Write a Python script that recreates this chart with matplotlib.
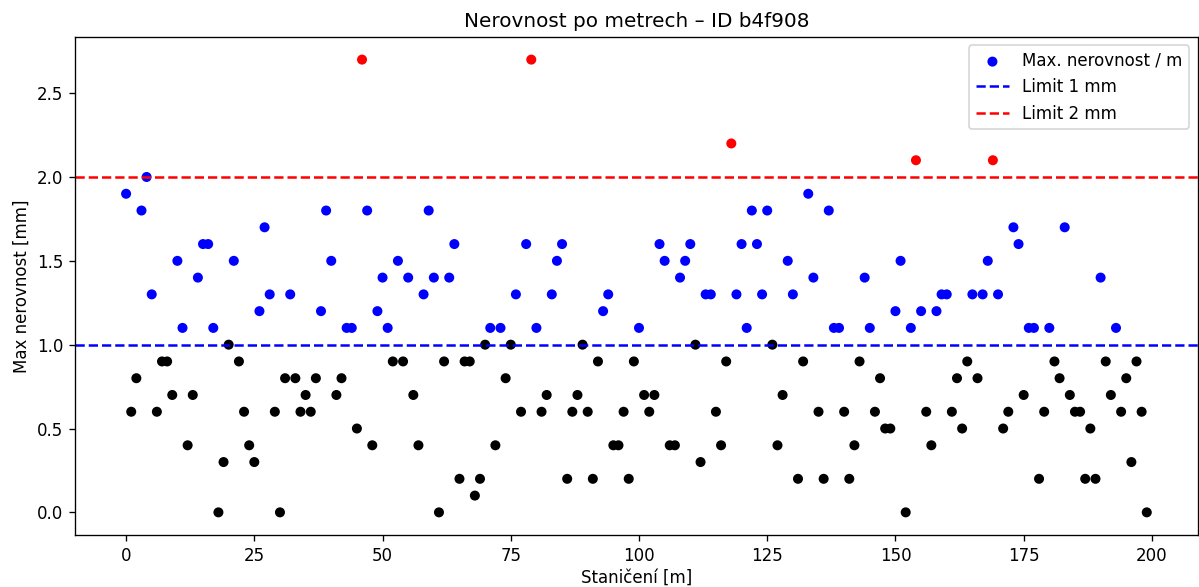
import matplotlib
matplotlib.use("Agg")
import matplotlib.pyplot as plt

# max unevenness per metre [mm], index = chainage in m
values = [
    1.9, 0.6, 0.8, 1.8, 2.0, 1.3, 0.6, 0.9, 0.9, 0.7,
    1.5, 1.1, 0.4, 0.7, 1.4, 1.6, 1.6, 1.1, 0.0, 0.3,
    1.0, 1.5, 0.9, 0.6, 0.4, 0.3, 1.2, 1.7, 1.3, 0.6,
    0.0, 0.8, 1.3, 0.8, 0.6, 0.7, 0.6, 0.8, 1.2, 1.8,
    1.5, 0.7, 0.8, 1.1, 1.1, 0.5, 2.7, 1.8, 0.4, 1.2,
    1.4, 1.1, 0.9, 1.5, 0.9, 1.4, 0.7, 0.4, 1.3, 1.8,
    1.4, 0.0, 0.9, 1.4, 1.6, 0.2, 0.9, 0.9, 0.1, 0.2,
    1.0, 1.1, 0.4, 1.1, 0.8, 1.0, 1.3, 0.6, 1.6, 2.7,
    1.1, 0.6, 0.7, 1.3, 1.5, 1.6, 0.2, 0.6, 0.7, 1.0,
    0.6, 0.2, 0.9, 1.2, 1.3, 0.4, 0.4, 0.6, 0.2, 0.9,
    1.1, 0.7, 0.6, 0.7, 1.6, 1.5, 0.4, 0.4, 1.4, 1.5,
    1.6, 1.0, 0.3, 1.3, 1.3, 0.6, 0.4, 0.9, 2.2, 1.3,
    1.6, 1.1, 1.8, 1.6, 1.3, 1.8, 1.0, 0.4, 0.7, 1.5,
    1.3, 0.2, 0.9, 1.9, 1.4, 0.6, 0.2, 1.8, 1.1, 1.1,
    0.6, 0.2, 0.4, 0.9, 1.4, 1.1, 0.6, 0.8, 0.5, 0.5,
    1.2, 1.5, 0.0, 1.1, 2.1, 1.2, 0.6, 0.4, 1.2, 1.3,
    1.3, 0.6, 0.8, 0.5, 0.9, 1.3, 0.8, 1.3, 1.5, 2.1,
    1.3, 0.5, 0.6, 1.7, 1.6, 0.7, 1.1, 1.1, 0.2, 0.6,
    1.1, 0.9, 0.8, 1.7, 0.7, 0.6, 0.6, 0.2, 0.5, 0.2,
    1.4, 0.9, 0.7, 1.1, 0.6, 0.8, 0.3, 0.9, 0.6, 0.0,
]
meters = list(range(len(values)))
limit_1 = 1.0
limit_2 = 2.0


def main():
    colors = []
    for v in values:
        if v > limit_2:
            colors.append("red")
        elif v > limit_1:
            colors.append("blue")
        else:
            colors.append("black")

    fig, ax = plt.subplots(figsize=(1199 / 120, 587 / 120), dpi=120)
    fig.subplots_adjust(left=0.0626, right=0.999, top=0.937, bottom=0.0886)

    ax.scatter(meters, values, c=colors, s=25, label="Max. nerovnost / m")
    ax.axhline(limit_1, color="blue", linestyle="--", linewidth=1.5, label="Limit 1 mm")
    ax.axhline(limit_2, color="red", linestyle="--", linewidth=1.5, label="Limit 2 mm")

    ax.set_title("Nerovnost po metrech – ID b4f908")
    ax.set_xlabel("Staničení [m]", labelpad=2.5)
    ax.set_ylabel("Max nerovnost [mm]")
    ax.legend(loc="upper right")

    fig.savefig("out.png")


if __name__ == "__main__":
    main()
